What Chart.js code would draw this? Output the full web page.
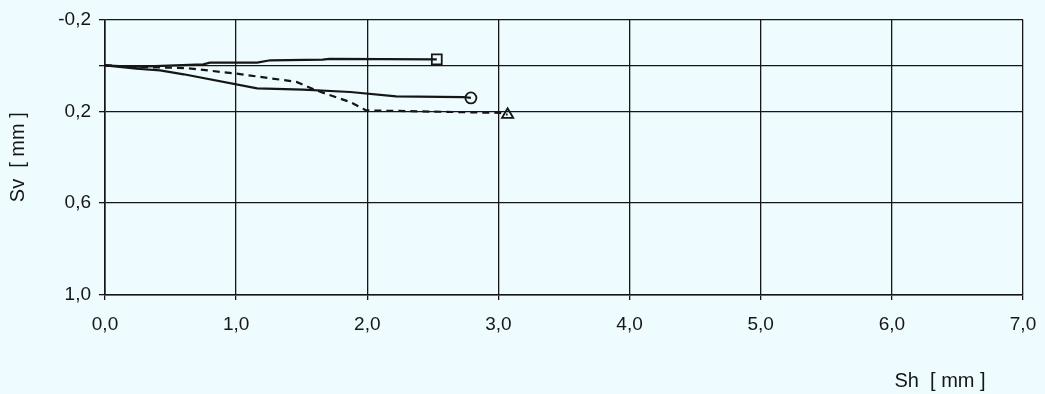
<!DOCTYPE html>
<html lang="de">
<head>
    <meta charset="UTF-8">
    <title>Sv / Sh</title>
    <script src="https://cdn.jsdelivr.net/npm/chart.js"></script>
    <style>
        html, body { margin: 0; padding: 0; background: #eefbff; }
        #wrap { width: 1045px; height: 394px; }
    </style>
</head>
<body>
    <div id="wrap"><canvas id="chart"></canvas></div>

    <script>
        // horizontal displacement Sh [mm] / vertical displacement Sv [mm]
        const squareSh = [0.0, 0.22, 0.75, 0.80, 1.16, 1.26, 1.66, 1.71, 2.53];
        const squareSv = [0.0, 0.007, -0.004, -0.012, -0.012, -0.022, -0.025, -0.028, -0.026];

        const circleSh = [0.0, 0.24, 0.42, 0.60, 1.16, 1.51, 1.87, 2.22, 2.73, 2.79];
        const circleSv = [0.0, 0.015, 0.022, 0.039, 0.100, 0.106, 0.116, 0.135, 0.138, 0.142];

        const triangleSh = [0.0, 0.22, 0.62, 1.00, 1.46, 1.61, 1.87, 1.99, 3.01, 3.07];
        const triangleSv = [0.0, 0.007, 0.012, 0.036, 0.072, 0.109, 0.160, 0.196, 0.207, 0.215];

        const shLabels = ['0,0', '1,0', '2,0', '3,0', '4,0', '5,0', '6,0', '7,0'];
        const svLabels = ['-0,2', '0,2', '0,6', '1,0'];

        const ink = '#161616';
        const family = '"Liberation Sans", Arial, sans-serif';
        const fmt = v => v.toFixed(1).replace('.', ',');
        const pts = (xs, ys) => xs.map((x, i) => ({ x: x, y: ys[i] }));
        const lastOnly = r => ctx => ctx.dataIndex === ctx.dataset.data.length - 1 ? r : 0;

        function series(xs, ys, style, radius, dash) {
            return {
                data: pts(xs, ys),
                borderColor: ink,
                borderWidth: 2.2,
                borderDash: dash,
                tension: 0,
                pointStyle: style,
                pointRadius: lastOnly(radius),
                pointBorderColor: ink,
                pointBorderWidth: 1.8,
                pointBackgroundColor: 'rgba(0,0,0,0)'
            };
        }

        const xTitle = {
            id: 'xTitle',
            afterDraw(chart) {
                const c = chart.ctx;
                c.save();
                c.fillStyle = ink;
                c.font = '20px ' + family;
                c.textAlign = 'center';
                c.textBaseline = 'middle';
                c.fillText('Sh  [ mm ]', 940, 381);
                c.restore();
            }
        };

        new Chart(document.getElementById('chart'), {
            type: 'line',
            data: {
                datasets: [
                    series(squareSh, squareSv, 'rect', 7, []),
                    series(circleSh, circleSv, 'circle', 5.5, []),
                    series(triangleSh, triangleSv, 'triangle', 6.5, [7, 5])
                ]
            },
            options: {
                responsive: true,
                maintainAspectRatio: false,
                animation: false,
                layout: { padding: { left: 0, top: 19, right: 22, bottom: 0 } },
                plugins: { legend: { display: false }, tooltip: { enabled: false } },
                scales: {
                    x: {
                        type: 'linear',
                        min: 0,
                        max: 7,
                        afterFit: s => {
                            s.height = 99;
                            s.paddingLeft = 0;
                            s.paddingRight = 0;
                        },
                        grid: { color: ink, lineWidth: 1.3, tickLength: 5 },
                        border: { color: ink, width: 1.6 },
                        ticks: {
                            stepSize: 1,
                            padding: 13,
                            color: ink,
                            font: { family: family, size: 19 },
                            callback: v => shLabels[Math.round(v)]
                        }
                    },
                    y: {
                        type: 'linear',
                        reverse: true,
                        min: -0.2,
                        max: 1.0,
                        afterFit: s => { s.width = 105; },
                        grid: {
                            color: ctx => {
                                const k = Math.round(ctx.tick.value * 10);
                                return (k === 4 || k === 8) ? 'rgba(0,0,0,0)' : ink;
                            },
                            lineWidth: 1.3,
                            tickLength: 6
                        },
                        border: { color: ink, width: 1.6 },
                        ticks: {
                            stepSize: 0.2,
                            padding: 8,
                            color: ink,
                            font: { family: family, size: 19 },
                            callback: v => {
                                const s = fmt(Math.round(v * 10) / 10);
                                return svLabels.includes(s) ? s : '';
                            }
                        },
                        title: {
                            display: true,
                            text: 'Sv  [ mm ]',
                            color: ink,
                            padding: { top: 6, bottom: 0 },
                            font: { family: family, size: 20 }
                        }
                    }
                }
            },
            plugins: [xTitle]
        });
    </script>
</body>
</html>
